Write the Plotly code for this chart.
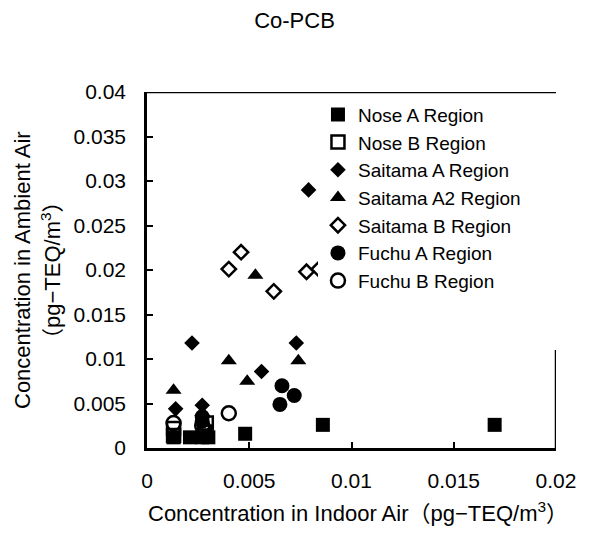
import plotly.graph_objects as go

# ---- data ----
nose_a_x = [0.0013, 0.0021, 0.0027, 0.0030, 0.0048, 0.0086, 0.0170]
nose_a_y = [0.0012, 0.0012, 0.0012, 0.0012, 0.0016, 0.0026, 0.0026]

nose_b_x = [0.0013, 0.0013, 0.0029, 0.0028]
nose_b_y = [0.0014, 0.0022, 0.0028, 0.0018]

saitama_a_x = [0.0022, 0.0014, 0.0027, 0.0056, 0.0073, 0.0079]
saitama_a_y = [0.0118, 0.0044, 0.0048, 0.0086, 0.0118, 0.0290]

saitama_a2_x = [0.0013, 0.0040, 0.0049, 0.0074, 0.0053, 0.0027]
saitama_a2_y = [0.0065, 0.0098, 0.0075, 0.0098, 0.0194, 0.0040]

saitama_b_x = [0.0046, 0.0040, 0.0062, 0.0078, 0.0084]
saitama_b_y = [0.0220, 0.0201, 0.0176, 0.0198, 0.0201]

fuchu_a_x = [0.0066, 0.0072, 0.0065, 0.0027, 0.0027]
fuchu_a_y = [0.0070, 0.0059, 0.0049, 0.0035, 0.0030]

fuchu_b_x = [0.0040, 0.0013, 0.0027]
fuchu_b_y = [0.0039, 0.0028, 0.0025]

x_ticks = [0, 0.005, 0.01, 0.015, 0.02]
x_labels = ["0", "0.005", "0.01", "0.015", "0.02"]
y_ticks = [0, 0.005, 0.01, 0.015, 0.02, 0.025, 0.03, 0.035, 0.04]
y_labels = ["0", "0.005", "0.01", "0.015", "0.02", "0.025", "0.03", "0.035", "0.04"]

FONT = "Liberation Sans, Arial, Noto Sans CJK JP, sans-serif"

series = [
    ("Nose A Region", nose_a_x, nose_a_y, "square", 14, "black"),
    ("Nose B Region", nose_b_x, nose_b_y, "square-open", 13, "black"),
    ("Saitama A Region", saitama_a_x, saitama_a_y, "diamond", 12, "black"),
    ("Saitama A2 Region", saitama_a2_x, saitama_a2_y, "triangle-up", 14, "black"),
    ("Saitama B Region", saitama_b_x, saitama_b_y, "diamond-open", 11, "black"),
    ("Fuchu A Region", fuchu_a_x, fuchu_a_y, "circle", 15, "black"),
    ("Fuchu B Region", fuchu_b_x, fuchu_b_y, "circle-open", 14, "black"),
]

fig = go.Figure()
for name, xs, ys, sym, size, col in series:
    fig.add_trace(go.Scatter(
        x=xs, y=ys, mode="markers", name=name,
        marker=dict(symbol=sym, size=size, color=col,
                    line=dict(width=2.5 if "open" in sym else 0, color="black")),
    ))

fig.update_layout(
    width=589, height=533,
    margin=dict(l=147, r=33, t=92, b=85),
    paper_bgcolor="white", plot_bgcolor="white",
    font=dict(family=FONT, size=20, color="black"),
    showlegend=True,
    legend=dict(
        x=0.418, y=0.99, xanchor="left", yanchor="top",
        bgcolor="white", borderwidth=0,
        font=dict(family=FONT, size=19, color="black"),
        itemsizing="trace",
    ),
    title=dict(text="Co-PCB", x=0.5, xref="container", y=1 - 20 / 533, yref="container",
               xanchor="center", yanchor="middle",
               font=dict(family=FONT, size=22, color="black")),
)

fig.update_xaxes(
    range=[0, 0.02], tickvals=x_ticks, ticktext=x_labels,
    showline=True, linecolor="black", linewidth=2.5,
    ticks="inside", ticklen=6, tickwidth=1.5, tickcolor="black",
    showgrid=False, zeroline=False, ticklabelstandoff=12,
    tickfont=dict(family=FONT, size=21, color="black"),
)
fig.update_yaxes(
    range=[0, 0.04], tickvals=y_ticks, ticktext=y_labels,
    showline=True, linecolor="black", linewidth=2.5,
    ticks="inside", ticklen=6, tickwidth=1.5, tickcolor="black",
    showgrid=False, zeroline=False, ticklabelstandoff=14,
    tickfont=dict(family=FONT, size=21, color="black"),
)

# top frame line and lower part of right frame line
fig.add_shape(type="line", xref="x", yref="y", x0=0, x1=0.02, y0=0.04, y1=0.04,
              line=dict(color="black", width=2.5))
fig.add_shape(type="line", xref="x", yref="y", x0=0.02, x1=0.02, y0=0, y1=0.011,
              line=dict(color="black", width=2.5))

# axis titles
fig.add_annotation(text="Concentration in Indoor Air（pg−TEQ/m<sup>3</sup>）",
                   xref="paper", yref="paper", x=(358 - 147) / 409, y=(448 - 512) / 356,
                   showarrow=False, xanchor="center", yanchor="middle",
                   font=dict(family=FONT, size=22, color="black"))
fig.add_annotation(text="Concentration in Ambient Air",
                   xref="paper", yref="paper", x=(22 - 147) / 409, y=0.5,
                   showarrow=False, xanchor="center", yanchor="middle", textangle=-90,
                   font=dict(family=FONT, size=22, color="black"))
fig.add_annotation(text="（pg−TEQ/m<sup>3</sup>）",
                   xref="paper", yref="paper", x=(51 - 147) / 409, y=0.5,
                   showarrow=False, xanchor="center", yanchor="middle", textangle=-90,
                   font=dict(family=FONT, size=22, color="black"))

fig.write_html("out.html")
